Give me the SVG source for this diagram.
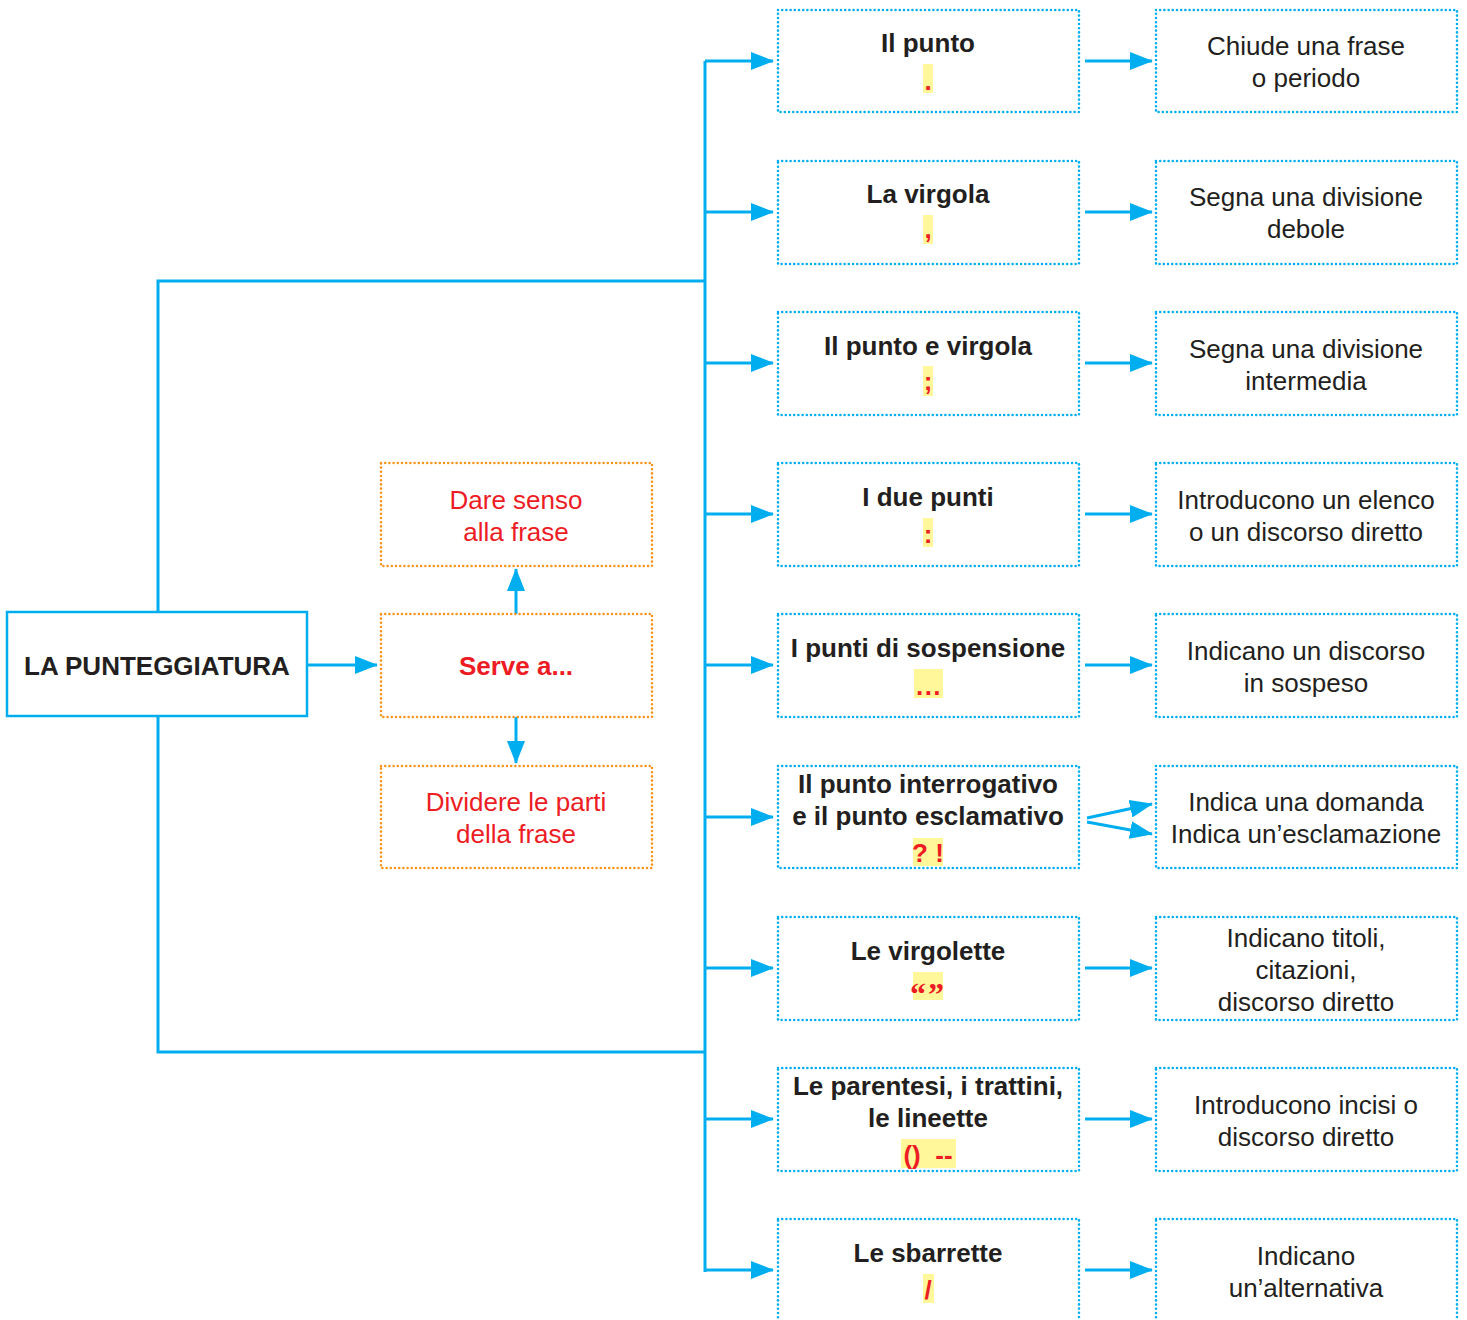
<svg xmlns="http://www.w3.org/2000/svg" width="1467" height="1320" viewBox="0 0 1467 1320">
<style>
.bg{fill:#ffffff}
.blue{fill:none;stroke:#00aeef;stroke-width:2.6;stroke-dasharray:0 4.2;stroke-linecap:round}
.orng{fill:none;stroke:#f7941d;stroke-width:2.6;stroke-dasharray:0 4.2;stroke-linecap:round}
.main{fill:#fff;stroke:#00aeef;stroke-width:2.5}
.ln{fill:none;stroke:#00aeef;stroke-width:3}
.t{font-family:"Liberation Sans",Arial,sans-serif;font-size:26px;fill:#231f20;text-anchor:middle}
.b{font-weight:bold}
.r{fill:#ed1c24}
.hl{fill:#fff799}
</style>
<defs>
<marker id="ah" viewBox="0 0 23 18" refX="22" refY="9" markerWidth="23" markerHeight="18" markerUnits="userSpaceOnUse" orient="auto">
<path d="M0,0 L23,9 L0,18 Z" fill="#00aeef"/>
</marker>
</defs>
<rect class="bg" width="1467" height="1320"/>

<g id="connectors">
<path class="ln" d="M705,61 V1272"/>
<path class="ln" d="M158,612 V281 H705"/>
<path class="ln" d="M158,716 V1052 H705"/>
<path class="ln" d="M705,61 H773" marker-end="url(#ah)"/>
<path class="ln" d="M705,212 H773" marker-end="url(#ah)"/>
<path class="ln" d="M705,363 H773" marker-end="url(#ah)"/>
<path class="ln" d="M705,514 H773" marker-end="url(#ah)"/>
<path class="ln" d="M705,665 H773" marker-end="url(#ah)"/>
<path class="ln" d="M705,817 H773" marker-end="url(#ah)"/>
<path class="ln" d="M705,968 H773" marker-end="url(#ah)"/>
<path class="ln" d="M705,1119 H773" marker-end="url(#ah)"/>
<path class="ln" d="M705,1270 H773" marker-end="url(#ah)"/>
<path class="ln" d="M1085,61 H1152" marker-end="url(#ah)"/>
<path class="ln" d="M1085,212 H1152" marker-end="url(#ah)"/>
<path class="ln" d="M1085,363 H1152" marker-end="url(#ah)"/>
<path class="ln" d="M1085,514 H1152" marker-end="url(#ah)"/>
<path class="ln" d="M1085,665 H1152" marker-end="url(#ah)"/>
<path class="ln" d="M1087,818 L1152,804" marker-end="url(#ah)"/>
<path class="ln" d="M1087,822 L1152,834" marker-end="url(#ah)"/>
<path class="ln" d="M1085,968 H1152" marker-end="url(#ah)"/>
<path class="ln" d="M1085,1119 H1152" marker-end="url(#ah)"/>
<path class="ln" d="M1085,1270 H1152" marker-end="url(#ah)"/>
<path class="ln" d="M308,665 H377" marker-end="url(#ah)"/>
<path class="ln" d="M516,614 V569" marker-end="url(#ah)"/>
<path class="ln" d="M516,717 V763" marker-end="url(#ah)"/>
</g>

<g id="main">
<rect class="main" x="7" y="612" width="300" height="104"/>
<text class="t b" x="157" y="675">LA PUNTEGGIATURA</text>
</g>

<g id="serve">
<rect class="orng" x="381" y="614" width="271" height="103"/>
<text class="t b r" x="516" y="675">Serve a...</text>
</g>
<g id="dare">
<rect class="orng" x="381" y="463" width="271" height="103"/>
<text class="t r" x="516" y="509">Dare senso</text>
<text class="t r" x="516" y="541">alla frase</text>
</g>
<g id="dividere">
<rect class="orng" x="381" y="766" width="271" height="102"/>
<text class="t r" x="516" y="811">Dividere le parti</text>
<text class="t r" x="516" y="843">della frase</text>
</g>

<g id="m1">
<rect class="blue" x="778" y="10" width="301" height="102"/>
<text class="t b" x="928" y="52">Il punto</text>
<rect class="hl" x="923" y="64" width="10" height="29"/>
<text class="t b r" x="928" y="90">.</text>
</g>
<g id="m2">
<rect class="blue" x="778" y="161" width="301" height="103"/>
<text class="t b" x="928" y="203">La virgola</text>
<rect class="hl" x="923" y="215" width="10" height="29"/>
<text class="t b r" x="928" y="238">,</text>
</g>
<g id="m3">
<rect class="blue" x="778" y="312" width="301" height="103"/>
<text class="t b" x="928" y="355">Il punto e virgola</text>
<rect class="hl" x="923" y="366" width="10" height="30"/>
<text class="t b r" x="928" y="390">;</text>
</g>
<g id="m4">
<rect class="blue" x="778" y="463" width="301" height="103"/>
<text class="t b" x="928" y="506">I due punti</text>
<rect class="hl" x="923" y="518" width="10" height="29"/>
<text class="t b r" x="928" y="543">:</text>
</g>
<g id="m5">
<rect class="blue" x="778" y="614" width="301" height="103"/>
<text class="t b" x="928" y="657">I punti di sospensione</text>
<rect class="hl" x="914" y="669" width="29" height="29"/>
<text class="t b r" x="929" y="695" letter-spacing="1.5">...</text>
</g>
<g id="m6">
<rect class="blue" x="778" y="766" width="301" height="102"/>
<text class="t b" x="928" y="793">Il punto interrogativo</text>
<text class="t b" x="928" y="825">e il punto esclamativo</text>
<rect class="hl" x="913" y="838" width="30" height="28"/>
<text class="t b r" x="928" y="862">? !</text>
</g>
<g id="m7">
<rect class="blue" x="778" y="917" width="301" height="103"/>
<text class="t b" x="928" y="960">Le virgolette</text>
<rect class="hl" x="913" y="972" width="30" height="28"/>
<text class="t b r" x="928" y="1005" style="font-family:'Liberation Serif',serif;font-size:32px" letter-spacing="2">“”</text>
</g>
<g id="m8">
<rect class="blue" x="778" y="1068" width="301" height="103"/>
<text class="t b" x="928" y="1095">Le parentesi, i trattini,</text>
<text class="t b" x="928" y="1127">le lineette</text>
<rect class="hl" x="901" y="1139" width="55" height="29"/>
<text class="t b r" x="928" y="1164" xml:space="preserve">()  --</text>
</g>
<g id="m9">
<rect class="blue" x="778" y="1219" width="301" height="103"/>
<text class="t b" x="928" y="1262">Le sbarrette</text>
<rect class="hl" x="923" y="1274" width="11" height="29"/>
<text class="t b r" x="928" y="1299">/</text>
</g>

<g id="r1">
<rect class="blue" x="1156" y="10" width="301" height="102"/>
<text class="t" x="1306" y="55">Chiude una frase</text>
<text class="t" x="1306" y="87">o periodo</text>
</g>
<g id="r2">
<rect class="blue" x="1156" y="161" width="301" height="103"/>
<text class="t" x="1306" y="206">Segna una divisione</text>
<text class="t" x="1306" y="238">debole</text>
</g>
<g id="r3">
<rect class="blue" x="1156" y="312" width="301" height="103"/>
<text class="t" x="1306" y="358">Segna una divisione</text>
<text class="t" x="1306" y="390">intermedia</text>
</g>
<g id="r4">
<rect class="blue" x="1156" y="463" width="301" height="103"/>
<text class="t" x="1306" y="509">Introducono un elenco</text>
<text class="t" x="1306" y="541">o un discorso diretto</text>
</g>
<g id="r5">
<rect class="blue" x="1156" y="614" width="301" height="103"/>
<text class="t" x="1306" y="660">Indicano un discorso</text>
<text class="t" x="1306" y="692">in sospeso</text>
</g>
<g id="r6">
<rect class="blue" x="1156" y="766" width="301" height="102"/>
<text class="t" x="1306" y="811">Indica una domanda</text>
<text class="t" x="1306" y="843">Indica un’esclamazione</text>
</g>
<g id="r7">
<rect class="blue" x="1156" y="917" width="301" height="103"/>
<text class="t" x="1306" y="947">Indicano titoli,</text>
<text class="t" x="1306" y="979">citazioni,</text>
<text class="t" x="1306" y="1011">discorso diretto</text>
</g>
<g id="r8">
<rect class="blue" x="1156" y="1068" width="301" height="103"/>
<text class="t" x="1306" y="1114">Introducono incisi o</text>
<text class="t" x="1306" y="1146">discorso diretto</text>
</g>
<g id="r9">
<rect class="blue" x="1156" y="1219" width="301" height="103"/>
<text class="t" x="1306" y="1265">Indicano</text>
<text class="t" x="1306" y="1297">un’alternativa</text>
</g>
</svg>
